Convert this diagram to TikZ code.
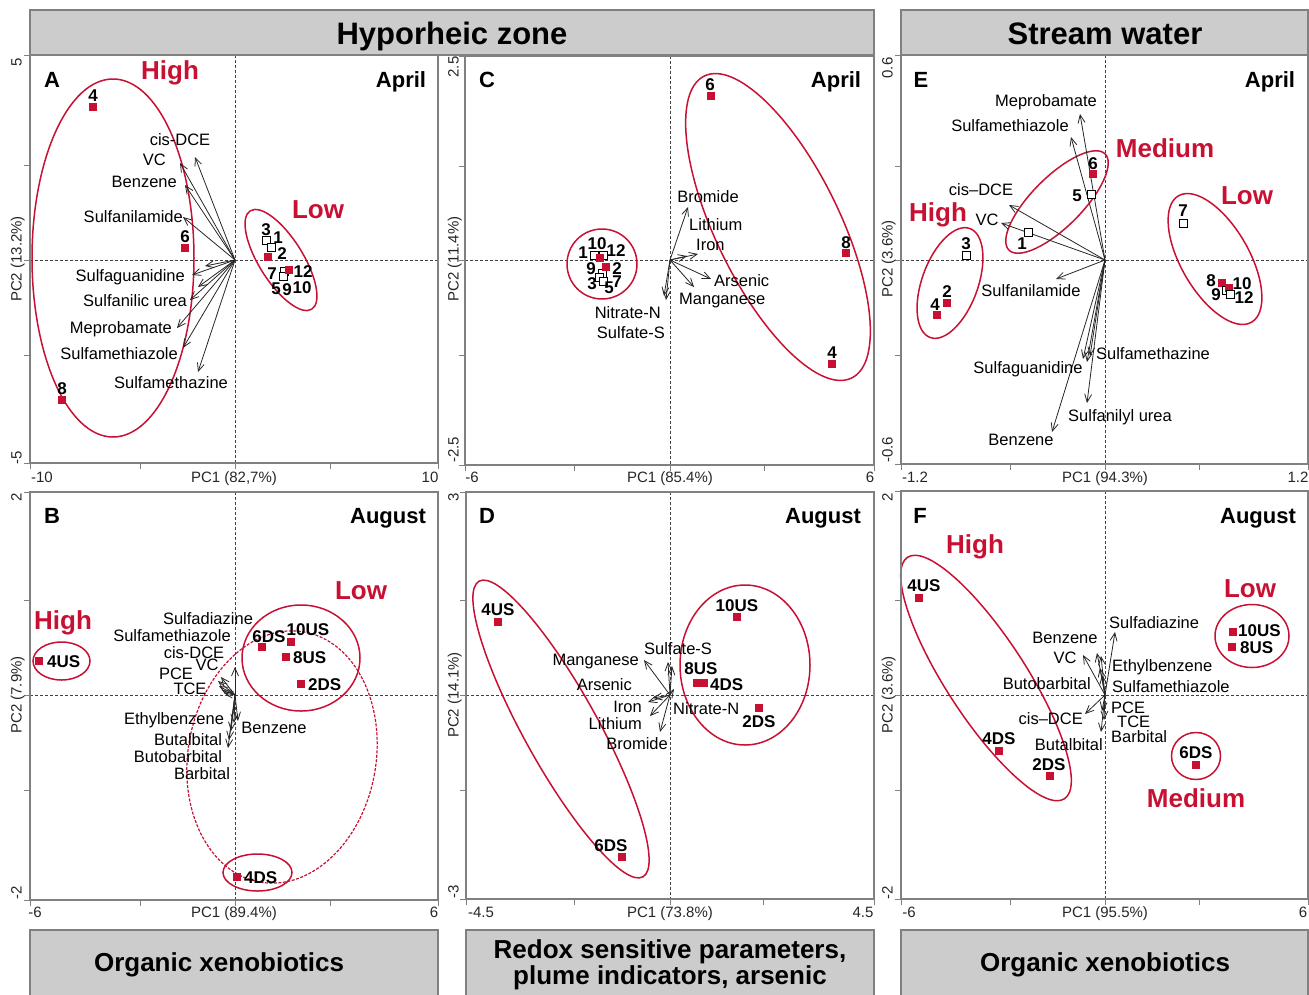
\documentclass[tikz,border=0pt]{standalone}
\usepackage{fontspec}
\setmainfont{Liberation Sans}
\usetikzlibrary{arrows.meta}

\tikzset{
  frame/.style={draw=framegray, line width=1.6pt},
  hdrbox/.style={draw=framegray, fill=hdrgray, line width=1.6pt},
  zeroline/.style={draw=black!75, dash pattern=on 3pt off 2pt, line width=0.8pt},
  tickmark/.style={draw=framegray, line width=1pt},
  vec/.style={draw=black!85, line width=0.8pt, -{Straight Barb[length=8pt,width=7pt,line width=0.8pt]}},
  redsq/.style={fill=ptred, minimum size=8pt, inner sep=0pt},
  opensq/.style={draw=black, fill=white, line width=1pt, minimum size=8pt, inner sep=0pt},
  num/.style={font=\fontsize{17}{17}\selectfont\bfseries, text height=12pt, text depth=0pt, inner sep=0pt},
  varlbl/.style={font=\fontsize{16.5}{17}\selectfont, text height=12pt, text depth=0pt, inner sep=0pt},
  grp/.style={font=\fontsize{26}{26}\selectfont\bfseries, text=ptred, text height=19pt, text depth=0pt, inner sep=0pt},
  month/.style={font=\fontsize{22}{22}\selectfont\bfseries, text height=16pt, text depth=0pt, inner sep=0pt},
  ticklbl/.style={font=\fontsize{15}{15}\selectfont, text=black!85, text height=11pt, text depth=0pt, inner sep=0pt},
  ring/.style={draw=ptred, line width=1.5pt},
  hdrtxt/.style={font=\fontsize{31}{31}\selectfont\bfseries, text height=22pt, text depth=0pt, inner sep=0pt},
  foottxt/.style={font=\fontsize{26}{26}\selectfont\bfseries, text height=19pt, text depth=0pt, inner sep=0pt},
}

\begin{document}
\begin{tikzpicture}[x=1pt,y=-1pt]
\definecolor{ptred}{rgb}{0.784, 0.063, 0.200}
\definecolor{framegray}{rgb}{0.500, 0.500, 0.500}
\definecolor{hdrgray}{rgb}{0.800, 0.800, 0.800}
\useasboundingbox (0,0) rectangle (1309,994);

% headers and footers
\draw[hdrbox] (30,10) rectangle (874,55);
\node[hdrtxt] (hHypo) at (452,33) {Hyporheic zone};
\draw[hdrbox] (901,10) rectangle (1308,55);
\node[hdrtxt] (hStream) at (1105,33) {Stream water};
\draw[hdrbox] (30,930) rectangle (438,1000);
\node[foottxt] (fOrgA) at (219,962) {Organic xenobiotics};
\draw[hdrbox] (466,930) rectangle (874,1000);
\node[foottxt] (fRedox) at (670,949) {Redox sensitive parameters,};
\node[foottxt] (fPlume) at (670,975) {plume indicators, arsenic};
\draw[hdrbox] (901,930) rectangle (1308,1000);
\node[foottxt] (fOrgF) at (1105,962) {Organic xenobiotics};

% panel A
\coordinate (oA) at (235,260);
\draw[zeroline] (30,260) -- (438,260);
\draw[zeroline] (235,55) -- (235,463);
\draw[ring] (113,258) ellipse [x radius=81, y radius=179];
\draw[ring, rotate around={-58:(281,260)}] (281,260) ellipse [x radius=58, y radius=22];
\foreach \p in {(195,157),(180,163),(185,185),(183,217),(205,266),(192,275),(198,287),(190,300),(177,328),(183,348),(198,372)}
  \draw[vec] (oA) -- \p;
\node[varlbl] (aDCE) at (180,139) {cis-DCE};
\node[varlbl, anchor=east] (aVC) at (166,159) {VC};
\node[varlbl, anchor=east] (aBenz) at (177,181) {Benzene};
\node[varlbl, anchor=east] (aSnam) at (183,216) {Sulfanilamide};
\node[varlbl, anchor=east] (aSgua) at (185,275) {Sulfaguanidine};
\node[varlbl, anchor=east] (aUrea) at (187,300) {Sulfanilic urea};
\node[varlbl, anchor=east] (aMepro) at (172,327) {Meprobamate};
\node[varlbl, anchor=east] (aSmtz) at (178,353) {Sulfamethiazole};
\node[varlbl] (aSmz) at (171,382) {Sulfamethazine};
\node[redsq] (a4) at (93,107) {};
\node[num] (a4n) at (93,95) {4};
\node[redsq] (a6) at (185,248) {};
\node[num] (a6n) at (185,236) {6};
\node[redsq] (a8) at (62,400) {};
\node[num] (a8n) at (62,388) {8};
\node[opensq] (a3) at (266,240) {};
\node[num] (a3n) at (266,229) {3};
\node[opensq] (a1) at (271,247) {};
\node[num] (a1n) at (278,237) {1};
\node[redsq] (a2) at (268,257) {};
\node[num] (a2n) at (282,253) {2};
\node[opensq] (a7) at (284,271) {};
\node[opensq] (a5) at (283,276) {};
\node[redsq] (a12) at (289,270) {};
\node[num] (a12n) at (303,271) {12};
\node[num] (a7n) at (272,273) {7};
\node[num] (a5n) at (276,288) {5};
\node[num] (a9n) at (287,289) {9};
\node[num] (a10n) at (302,287) {10};
\node[month] (aLet) at (52,79) {A};
\node[month] (aMon) at (401,79) {April};
\node[grp] (aHigh) at (170,70) {High};
\node[grp] (aLow) at (318,209) {Low};
\foreach \t in {30,140,235,330,438} \draw[tickmark] (\t,463) -- (\t,469);
\foreach \t in {55,165,260,355,463} \draw[tickmark] (30,\t) -- (24,\t);
\draw[frame] (30,55) rectangle (438,463);
\node[ticklbl] (aX0) at (42,477) {-10};
\node[ticklbl] (aX1) at (234,477) {PC1 (82,7\%)};
\node[ticklbl] (aX2) at (430,477) {10};
\node[ticklbl, rotate=90] (aY0) at (16,62) {5};
\node[ticklbl, rotate=90] (aY1) at (16,259) {PC2 (13.2\%)};
\node[ticklbl, rotate=90] (aY2) at (16,458) {-5};

% panel B
\coordinate (oB) at (235,695);
\draw[zeroline] (30,695) -- (438,695);
\draw[zeroline] (235,492) -- (235,900);
\draw[ring] (61.5,661) ellipse [x radius=28.5, y radius=19];
\draw[ring] (301,658) ellipse [x radius=59, y radius=53];
\draw[ring, line width=1.2pt, dash pattern=on 3pt off 1.5pt, rotate around={-10:(282,757)}] (282,757) ellipse [x radius=94, y radius=127];
\draw[ring] (257.5,872.5) ellipse [x radius=34.5, y radius=18.5];
\foreach \p in {(221,677),(218,681),(219,686),(222,690),(224,693),(235,667),(238,721),(234,723),(231,731),(229,740),(228,748)}
  \draw[vec] (oB) -- \p;
\node[varlbl] (bSdz) at (208,618) {Sulfadiazine};
\node[varlbl] (bSmtz) at (172,635) {Sulfamethiazole};
\node[varlbl] (bDCE) at (194,652) {cis-DCE};
\node[varlbl] (bVC) at (207,664) {VC};
\node[varlbl] (bPCE) at (176,673) {PCE};
\node[varlbl] (bTCE) at (190,688) {TCE};
\node[varlbl] (bEtb) at (174,718) {Ethylbenzene};
\node[varlbl] (bBenz) at (274,727) {Benzene};
\node[varlbl] (bBtl) at (188,739) {Butalbital};
\node[varlbl] (bBtb) at (178,756) {Butobarbital};
\node[varlbl] (bBar) at (202,773) {Barbital};
\node[redsq] (b4US) at (39,661) {};
\node[num, anchor=west] (b4USn) at (47,661) {4US};
\node[redsq] (b6DS) at (262,647) {};
\node[num] (b6DSn) at (269,636) {6DS};
\node[redsq] (b10US) at (291,642) {};
\node[num] (b10USn) at (308,629) {10US};
\node[redsq] (b8US) at (286,657) {};
\node[num, anchor=west] (b8USn) at (293,657) {8US};
\node[redsq] (b2DS) at (301,684) {};
\node[num, anchor=west] (b2DSn) at (308,684) {2DS};
\node[redsq] (b4DS) at (237,877) {};
\node[num, anchor=west] (b4DSn) at (244,877) {4DS};
\node[month] (bLet) at (52,515) {B};
\node[month] (bMon) at (388,515) {August};
\node[grp] (bHigh) at (63,620) {High};
\node[grp] (bLow) at (361,590) {Low};
\foreach \t in {30,140,235,330,438} \draw[tickmark] (\t,900) -- (\t,906);
\foreach \t in {492,600,695,790,900} \draw[tickmark] (30,\t) -- (24,\t);
\draw[frame] (30,492) rectangle (438,900);
\node[ticklbl] (bX0) at (35,912) {-6};
\node[ticklbl] (bX1) at (234,912) {PC1 (89.4\%)};
\node[ticklbl] (bX2) at (434,912) {6};
\node[ticklbl, rotate=90] (bY0) at (16,497) {2};
\node[ticklbl, rotate=90] (bY1) at (16,695) {PC2 (7.9\%)};
\node[ticklbl, rotate=90] (bY2) at (16,893) {-2};

% panel C
\coordinate (oC) at (670,260);
\draw[zeroline] (465,260) -- (874,260);
\draw[zeroline] (670,56) -- (670,465);
\draw[ring, rotate around={-64:(778,227)}] (778,227) ellipse [x radius=168, y radius=62];
\draw[ring] (602,264) circle [radius=35];
\foreach \p in {(688,207),(687,256),(698,254),(711,279),(694,287),(664,296),(666,300)}
  \draw[vec] (oC) -- \p;
\node[varlbl] (cBro) at (708,196) {Bromide};
\node[varlbl, anchor=west] (cLi) at (689,224) {Lithium};
\node[varlbl, anchor=west] (cFe) at (696,244) {Iron};
\node[varlbl, anchor=west] (cAs) at (714,280) {Arsenic};
\node[varlbl, anchor=west] (cMn) at (679,298) {Manganese};
\node[varlbl, anchor=east] (cNO) at (661,312) {Nitrate-N};
\node[varlbl, anchor=east] (cSO) at (665,332) {Sulfate-S};
\node[redsq] (c6) at (711,96) {};
\node[num] (c6n) at (710,84) {6};
\node[redsq] (c8) at (846,253) {};
\node[num] (c8n) at (846,242) {8};
\node[redsq] (c4) at (832,364) {};
\node[num] (c4n) at (832,352) {4};
\node[opensq] (c1) at (594,255) {};
\node[opensq] (c12) at (603,255) {};
\node[redsq] (c10) at (600,258) {};
\node[opensq] (c9) at (602,273) {};
\node[opensq] (c3) at (599,277) {};
\node[opensq] (c5) at (603,281) {};
\node[redsq] (c2) at (606,267) {};
\node[num] (c1n) at (583,252) {1};
\node[num] (c10n) at (597,243) {10};
\node[num] (c12n) at (616,250) {12};
\node[num] (c9n) at (591,268) {9};
\node[num] (c2n) at (617,268) {2};
\node[num] (c3n) at (592,283) {3};
\node[num] (c5n) at (609,287) {5};
\node[num] (c7n) at (617,281) {7};
\node[month] (cLet) at (487,79) {C};
\node[month] (cMon) at (836,79) {April};
\foreach \t in {465,574,670,764,874} \draw[tickmark] (\t,465) -- (\t,471);
\foreach \t in {56,166,260,355,465} \draw[tickmark] (465,\t) -- (459,\t);
\draw[frame] (465,56) rectangle (874,465);
\node[ticklbl] (cX0) at (472,477) {-6};
\node[ticklbl] (cX1) at (670,477) {PC1 (85.4\%)};
\node[ticklbl] (cX2) at (870,477) {6};
\node[ticklbl, rotate=90] (cY0) at (453,67) {2.5};
\node[ticklbl, rotate=90] (cY1) at (453,259) {PC2 (11.4\%)};
\node[ticklbl, rotate=90] (cY2) at (453,450) {-2.5};

% panel D
\coordinate (oD) at (670,695);
\draw[zeroline] (466,695) -- (874,695);
\draw[zeroline] (670,492) -- (670,899);
\draw[ring, rotate around={-61:(561,729)}] (561,729) ellipse [x radius=169, y radius=37];
\draw[ring] (745,665) ellipse [x radius=65, y radius=80];
\foreach \p in {(644,660),(668,662),(672,666),(653,698),(648,702),(650,716),(660,732),(674,689)}
  \draw[vec] (oD) -- \p;
\node[varlbl] (dSO) at (678,648) {Sulfate-S};
\node[varlbl, anchor=east] (dMn) at (639,659) {Manganese};
\node[varlbl, anchor=east] (dAs) at (632,684) {Arsenic};
\node[varlbl, anchor=east] (dFe) at (642,706) {Iron};
\node[varlbl, anchor=east] (dLi) at (642,723) {Lithium};
\node[varlbl, anchor=east] (dBro) at (668,743) {Bromide};
\node[varlbl, anchor=west] (dNO) at (673,708) {Nitrate-N};
\node[redsq] (d4US) at (498,622) {};
\node[num] (d4USn) at (498,609) {4US};
\node[redsq] (d6DS) at (622,857) {};
\node[num] (d6DSn) at (611,845) {6DS};
\node[redsq] (d10US) at (737,617) {};
\node[num] (d10USn) at (737,605) {10US};
\node[redsq] (d8US) at (697,683) {};
\node[redsq] (d4DS) at (704,683) {};
\node[num] (d8USn) at (701,668) {8US};
\node[num, anchor=west] (d4DSn) at (710,684) {4DS};
\node[redsq] (d2DS) at (759,708) {};
\node[num] (d2DSn) at (759,721) {2DS};
\node[month] (dLet) at (487,515) {D};
\node[month] (dMon) at (823,515) {August};
\foreach \t in {466,574,670,763,874} \draw[tickmark] (\t,899) -- (\t,905);
\foreach \t in {492,600,695,790,899} \draw[tickmark] (466,\t) -- (460,\t);
\draw[frame] (466,492) rectangle (874,899);
\node[ticklbl] (dX0) at (481,912) {-4.5};
\node[ticklbl] (dX1) at (670,912) {PC1 (73.8\%)};
\node[ticklbl] (dX2) at (863,912) {4.5};
\node[ticklbl, rotate=90] (dY0) at (453,497) {3};
\node[ticklbl, rotate=90] (dY1) at (453,695) {PC2 (14.1\%)};
\node[ticklbl, rotate=90] (dY2) at (453,892) {-3};

% panel E
\coordinate (oE) at (1105,260);
\draw[zeroline] (901,260) -- (1308,260);
\draw[zeroline] (1105,55) -- (1105,464);
\draw[ring, rotate around={45:(1057,202)}] (1057,202) ellipse [x radius=68, y radius=25];
\draw[ring, rotate around={70:(950,283)}] (950,283) ellipse [x radius=58, y radius=28];
\draw[ring, rotate around={-60:(1215,259)}] (1215,259) ellipse [x radius=73, y radius=34];
\foreach \p in {(1080,114),(1071,137),(1009,205),(1001,223),(1056,279),(1083,359),(1087,362),(1090,356),(1087,403),(1052,432)}
  \draw[vec] (oE) -- \p;
\node[varlbl] (eMepro) at (1046,100) {Meprobamate};
\node[varlbl] (eSmtz) at (1010,125) {Sulfamethiazole};
\node[varlbl] (eDCE) at (981,189) {cis–DCE};
\node[varlbl] (eVC) at (987,219) {VC};
\node[varlbl] (eSnam) at (1031,290) {Sulfanilamide};
\node[varlbl] (eSmz) at (1153,353) {Sulfamethazine};
\node[varlbl] (eSgua) at (1028,367) {Sulfaguanidine};
\node[varlbl] (eUrea) at (1120,415) {Sulfanilyl urea};
\node[varlbl] (eBenz) at (1021,439) {Benzene};
\node[redsq] (e6) at (1093,174) {};
\node[num] (e6n) at (1093,163) {6};
\node[opensq] (e5) at (1091,194) {};
\node[num] (e5n) at (1077,195) {5};
\node[opensq] (e1) at (1028,232) {};
\node[num] (e1n) at (1022,243) {1};
\node[opensq] (e3) at (966,255) {};
\node[num] (e3n) at (966,243) {3};
\node[redsq] (e2) at (947,303) {};
\node[num] (e2n) at (947,291) {2};
\node[redsq] (e4) at (937,315) {};
\node[num] (e4n) at (935,304) {4};
\node[opensq] (e7) at (1183,223) {};
\node[num] (e7n) at (1183,210) {7};
\node[redsq] (e8) at (1222,283) {};
\node[opensq] (e9) at (1226,290) {};
\node[redsq] (e10) at (1229,288) {};
\node[opensq] (e12) at (1230,294) {};
\node[num] (e8n) at (1211,280) {8};
\node[num] (e10n) at (1242,283) {10};
\node[num] (e9n) at (1216,294) {9};
\node[num] (e12n) at (1244,297) {12};
\node[month] (eLet) at (921,79) {E};
\node[month] (eMon) at (1270,79) {April};
\node[grp] (eMed) at (1165,148) {Medium};
\node[grp] (eHigh) at (938,212) {High};
\node[grp] (eLow) at (1247,195) {Low};
\foreach \t in {901,1010,1105,1199,1308} \draw[tickmark] (\t,464) -- (\t,470);
\foreach \t in {55,166,260,355,464} \draw[tickmark] (901,\t) -- (895,\t);
\draw[frame] (901,55) rectangle (1308,464);
\node[ticklbl] (eX0) at (915,477) {-1.2};
\node[ticklbl] (eX1) at (1105,477) {PC1 (94.3\%)};
\node[ticklbl] (eX2) at (1298,477) {1.2};
\node[ticklbl, rotate=90] (eY0) at (887,68) {0.6};
\node[ticklbl, rotate=90] (eY1) at (887,259) {PC2 (3.6\%)};
\node[ticklbl, rotate=90] (eY2) at (887,450) {-0.6};

% panel F
\coordinate (oF) at (1105,695);
\draw[zeroline] (901,695) -- (1308,695);
\draw[zeroline] (1105,491) -- (1105,899);
\draw[ring, rotate around={-57:(986,678)}] (986,678) ellipse [x radius=144, y radius=40];
\draw[ring] (1252,636) ellipse [x radius=37, y radius=31.5];
\draw[ring] (1196,756) ellipse [x radius=24.5, y radius=23.5];
\foreach \p in {(1115,632),(1097,653),(1101,656),(1083,655),(1100,668),(1102,675),(1085,714),(1102,711),(1104,720),(1101,732)}
  \draw[vec] (oF) -- \p;
\node[varlbl, anchor=west] (fSdz) at (1109,622) {Sulfadiazine};
\node[varlbl] (fBenz) at (1065,637) {Benzene};
\node[varlbl] (fVC) at (1065,657) {VC};
\node[varlbl, anchor=west] (fEtb) at (1112,665) {Ethylbenzene};
\node[varlbl, anchor=east] (fBtb) at (1091,683) {Butobarbital};
\node[varlbl, anchor=west] (fSmtz) at (1112,686) {Sulfamethiazole};
\node[varlbl, anchor=west] (fPCE) at (1111,707) {PCE};
\node[varlbl, anchor=west] (fTCE) at (1117,721) {TCE};
\node[varlbl, anchor=west] (fBar) at (1111,736) {Barbital};
\node[varlbl, anchor=east] (fDCE) at (1083,718) {cis–DCE};
\node[varlbl, anchor=east] (fBtl) at (1103,744) {Butalbital};
\node[redsq] (f4US) at (919,598) {};
\node[num] (f4USn) at (924,585) {4US};
\node[redsq] (f4DS) at (999,751) {};
\node[num] (f4DSn) at (999,738) {4DS};
\node[redsq] (f2DS) at (1050,776) {};
\node[num] (f2DSn) at (1049,764) {2DS};
\node[redsq] (f10US) at (1233,632) {};
\node[num, anchor=west] (f10USn) at (1238,630) {10US};
\node[redsq] (f8US) at (1232,647) {};
\node[num, anchor=west] (f8USn) at (1240,647) {8US};
\node[redsq] (f6DS) at (1196,765) {};
\node[num] (f6DSn) at (1196,752) {6DS};
\node[month] (fLet) at (920,515) {F};
\node[month] (fMon) at (1258,515) {August};
\node[grp] (fHigh) at (975,544) {High};
\node[grp] (fLow) at (1250,588) {Low};
\node[grp] (fMed) at (1196,798) {Medium};
\foreach \t in {901,1010,1105,1199,1308} \draw[tickmark] (\t,899) -- (\t,905);
\foreach \t in {491,600,695,790,899} \draw[tickmark] (901,\t) -- (895,\t);
\draw[frame] (901,491) rectangle (1308,899);
\node[ticklbl] (fX0) at (909,912) {-6};
\node[ticklbl] (fX1) at (1105,912) {PC1 (95.5\%)};
\node[ticklbl] (fX2) at (1303,912) {6};
\node[ticklbl, rotate=90] (fY0) at (887,497) {2};
\node[ticklbl, rotate=90] (fY1) at (887,695) {PC2 (3.6\%)};
\node[ticklbl, rotate=90] (fY2) at (887,893) {-2};
\end{tikzpicture}
\end{document}
